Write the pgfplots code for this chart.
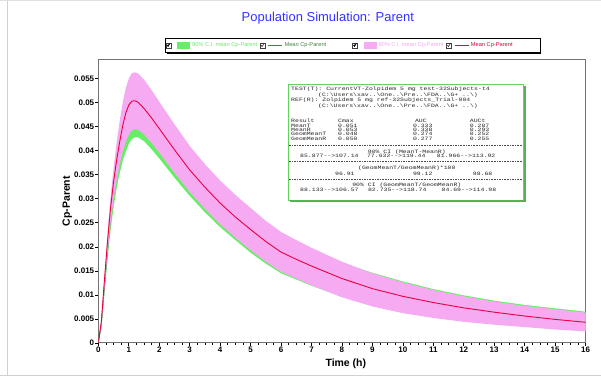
\documentclass[border=0pt]{standalone}
\usepackage{fontspec}
\setmainfont{Liberation Sans}
\newfontfamily\boxfont[FakeStretch=1.3]{Liberation Mono}
\usepackage{pgfplots}
\pgfplotsset{compat=1.18}
\usepackage{pgfplotstable}

\definecolor{greenband}{RGB}{102,238,102}
\definecolor{pinkband}{RGB}{245,170,242}
\definecolor{redline}{RGB}{232,0,64}
\definecolor{darkgreen}{RGB}{70,130,70}
\definecolor{boxgreen}{RGB}{100,210,100}
\definecolor{titleblue}{RGB}{51,51,255}

% mean curves: t, reference mean (red), test mean (dark green)
\pgfplotstableread{
t     m      gm
0     0      0
0.1   0.0045 0.0040
0.2   0.0130 0.0118
0.3   0.0210 0.0192
0.4   0.0280 0.0257
0.5   0.0335 0.0307
0.6   0.0380 0.0348
0.7   0.0418 0.0382
0.8   0.0452 0.0408
0.9   0.0478 0.0427
1.0   0.0495 0.0441
1.1   0.0503 0.0449
1.2   0.0504 0.0452
1.3   0.0501 0.0451
1.5   0.0488 0.0442
1.75  0.0468 0.0435
2.0   0.0446 0.0420
2.5   0.0402 0.0385
3.0   0.0360 0.0350
3.5   0.0324 0.0315
4.0   0.0291 0.0284
4.5   0.0262 0.0256
5.0   0.0236 0.0230
5.5   0.0211 0.0206
6.0   0.0189 0.0185
6.5   0.0174 0.0170
7.0   0.0160 0.0157
8.0   0.0134 0.0132
9.0   0.0113 0.0112
10.0  0.0097 0.0096
11.0  0.0084 0.0083
12.0  0.0073 0.0072
13.0  0.0064 0.0063
14.0  0.0056 0.0055
15.0  0.0049 0.0049
16.0  0.0043 0.0043
}\meandata

% test 90% C.I. band: upper edge forward, lower edge back
\pgfplotstableread{
t    y
0    0
0.1  0.0046
0.2  0.0132
0.3  0.0212
0.4  0.0280
0.5  0.0332
0.6  0.0375
0.7  0.0410
0.8  0.0436
0.9  0.0455
1.0  0.0468
1.1  0.0474
1.2  0.0476
1.3  0.0474
1.5  0.0465
1.75 0.0452
2.0  0.0440
2.5  0.0410
3.0  0.0385
3.5  0.0352
4.0  0.0322
4.5  0.0294
5.0  0.0268
5.5  0.0244
6.0  0.0222
6.5  0.0207
7.0  0.0193
8.0  0.0167
9.0  0.0146
10.0 0.0128
11.0 0.0112
12.0 0.0099
13.0 0.0088
14.0 0.0079
15.0 0.0072
16.0 0.0065
16.0 0.0025
15.0 0.0029
14.0 0.0034
13.0 0.0039
12.0 0.0045
11.0 0.0053
10.0 0.0063
9.0  0.0077
8.0  0.0096
7.0  0.0119
6.5  0.0132
6.0  0.0145
5.5  0.0165
5.0  0.0188
4.5  0.0214
4.0  0.0241
3.5  0.0272
3.0  0.0306
2.5  0.0344
2.0  0.0384
1.75 0.0403
1.5  0.0420
1.3  0.0428
1.2  0.0428
1.1  0.0424
1.0  0.0414
0.9  0.0398
0.8  0.0379
0.7  0.0353
0.6  0.0322
0.5  0.0282
0.4  0.0234
0.3  0.0172
0.2  0.0102
0.1  0.0030
0    0
}\greenband

% reference 90% C.I. band: upper edge forward, lower edge back
\pgfplotstableread{
t    y
0    0
0.1  0.0050
0.2  0.0140
0.3  0.0226
0.4  0.0302
0.5  0.0364
0.6  0.0416
0.7  0.0461
0.8  0.0500
0.9  0.0530
1.0  0.0550
1.1  0.0561
1.2  0.0563
1.3  0.0561
1.5  0.0548
1.75 0.0526
2.0  0.0502
2.5  0.0455
3.0  0.0410
3.5  0.0372
4.0  0.0338
4.5  0.0308
5.0  0.0281
5.5  0.0254
6.0  0.0231
6.5  0.0214
7.0  0.0198
8.0  0.0169
9.0  0.0145
10.0 0.0126
11.0 0.0110
12.0 0.0097
13.0 0.0086
14.0 0.0077
15.0 0.0070
16.0 0.0063
16.0 0.0024
15.0 0.0028
14.0 0.0033
13.0 0.0038
12.0 0.0044
11.0 0.0052
10.0 0.0062
9.0  0.0076
8.0  0.0095
7.0  0.0120
6.5  0.0134
6.0  0.0148
5.5  0.0169
5.0  0.0193
4.5  0.0219
4.0  0.0247
3.5  0.0279
3.0  0.0314
2.5  0.0354
2.0  0.0396
1.75 0.0416
1.5  0.0434
1.3  0.0444
1.2  0.0445
1.1  0.0442
1.0  0.0433
0.9  0.0418
0.8  0.0398
0.7  0.0371
0.6  0.0338
0.5  0.0298
0.4  0.0248
0.3  0.0185
0.2  0.0112
0.1  0.0036
0    0
}\pinkband

\newcommand{\chk}{%
  \draw[black!75,fill=white,line width=0.3pt] (0pt,-2.2pt) rectangle (4.6pt,2.4pt);
  \draw[black,line width=0.45pt] (0.9pt,0.3pt)--(1.9pt,-1.1pt)--(3.8pt,1.9pt);}
\newcommand{\bs}{\textbackslash}

\begin{document}
\begin{tikzpicture}
\path (0pt,0pt) rectangle (601pt,376pt);
\draw[black!18, line width=1pt] (7pt,0pt)--(7pt,376pt);
\draw[black!12, line width=1pt] (0pt,375.5pt)--(601pt,375.5pt);
\draw[black!18, line width=1pt] (0pt,0.5pt)--(601pt,0.5pt);

\begin{axis}[
  at={(98pt,33pt)}, anchor=south west,
  scale only axis, width=488pt, height=284pt,
  xmin=0, xmax=16, ymin=0, ymax=0.059,
  xtick={0,1,...,16},
  ytick={0,0.005,0.01,0.015,0.02,0.025,0.03,0.035,0.04,0.045,0.05,0.055},
  minor x tick num=3,
  tick pos=left, tick align=outside,
  major tick length=3pt, minor tick length=1.8pt,
  every tick/.append style={black, line width=0.6pt},
  axis line style={draw=black!55, line width=1.1pt},
  scaled y ticks=false,
  yticklabel style={/pgf/number format/fixed, /pgf/number format/precision=3},
  /pgf/number format/assume math mode=true,
  ticklabel style={font=\bfseries\fontsize{8}{9}\selectfont},
  yticklabel style={inner sep=1pt},
  xticklabel style={inner sep=1pt},
  xlabel={\bfseries Time (h)},
  ylabel={\bfseries Cp-Parent},
  label style={font=\bfseries\fontsize{10.5}{12}\selectfont},
  xlabel style={at={(axis description cs:0.508,-0.074)}, anchor=center},
  ylabel style={at={(axis description cs:-0.0635,0.5)}, anchor=center},
  title={Population Simulation: Parent},
  title style={at={(axis description cs:0.471,1.123)}, anchor=center, font=\fontsize{13}{14}\selectfont, text=titleblue},
  legend columns=4,
  legend style={at={(axis description cs:0.5215,1.049)}, anchor=center, draw=black, line width=0.4pt,
    font=\fontsize{5.7}{6}\selectfont, inner xsep=1pt, inner ysep=2.2pt, name=leg},
  legend cell align=left,
]
\addplot[fill=greenband, draw=none,
  legend image code/.code={\chk \fill[greenband] (11pt,-3.2pt) rectangle (24pt,3.2pt);}]
  table[x=t,y=y]{\greenband} -- cycle;
\addlegendentry{\makebox[66pt][l]{\textcolor{greenband}{90\% C.I. mean Cp-Parent}}}
\addplot[darkgreen, line width=0.8pt,
  legend image code/.code={\chk \draw[darkgreen,line width=0.8pt] (8pt,0pt)--(22pt,0pt);}]
  table[x=t,y=gm]{\meandata};
\addlegendentry{\makebox[66pt][l]{\textcolor{darkgreen}{Mean Cp-Parent}}}
\addplot[fill=pinkband, draw=none,
  legend image code/.code={\chk \fill[pinkband] (11pt,-3.2pt) rectangle (24pt,3.2pt);}]
  table[x=t,y=y]{\pinkband} -- cycle;
\addlegendentry{\makebox[66pt][l]{\textcolor{pinkband}{90\% C.I. mean Cp-Parent}}}
\addplot[redline, line width=0.9pt,
  legend image code/.code={\chk \draw[redline,line width=0.8pt] (8pt,0pt)--(22pt,0pt);}]
  table[x=t,y=m]{\meandata};
\addlegendentry{\makebox[66pt][l]{\textcolor{redline}{Mean Cp-Parent}}}
\end{axis}
\draw[black, line width=1.4pt] ([xshift=1.8pt,yshift=-0.8pt]leg.south west) -- ([xshift=0.8pt,yshift=-0.8pt]leg.south east) -- ([xshift=0.8pt,yshift=-1.8pt]leg.north east);

% info box
\fill[white] (288pt,176pt) rectangle (524pt,292pt);
\draw[boxgreen, line width=0.8pt] (288pt,176pt) rectangle (524pt,292pt);
\draw[boxgreen!85!black, line width=1.6pt] (289.5pt,175.2pt)--(525.2pt,175.2pt)--(525.2pt,290.5pt);
\begin{scope}[every node/.style={anchor=base west, inner sep=0pt, text=black!85,
    font=\boxfont\fontsize{5}{5}\selectfont}]
\node at (291pt,286pt) {TEST(T): CurrentVT-Zolpidem 5 mg test-32Subjects-t4};
\node at (318pt,280pt) {(C:\bs Users\bs xav..\bs One..\bs Pre..\bs FDA..\bs G+ ..\bs)};
\node at (291pt,274.4pt) {REF(R): Zolpidem 5 mg ref-32Subjects\_Trial-004};
\node at (318pt,268.4pt) {(C:\bs Users\bs xav..\bs One..\bs Pre..\bs FDA..\bs G+ ..\bs)};
\node at (291pt,253.4pt) {Result};
\node at (338pt,253.4pt) {Cmax};
\node at (415pt,253.4pt) {AUC};
\node at (470pt,253.4pt) {AUCt};
\node at (291pt,249.2pt) {MeanT};
\node at (338pt,249.2pt) {0.051};
\node at (413pt,249.2pt) {0.333};
\node at (470pt,249.2pt) {0.287};
\node at (291pt,244.8pt) {MeanR};
\node at (338pt,244.8pt) {0.053};
\node at (413pt,244.8pt) {0.338};
\node at (470pt,244.8pt) {0.293};
\node at (291pt,240.4pt) {GeomMeanT};
\node at (338pt,240.4pt) {0.048};
\node at (413pt,240.4pt) {0.274};
\node at (470pt,240.4pt) {0.252};
\node at (291pt,236pt) {GeomMeanR};
\node at (338pt,236pt) {0.050};
\node at (413pt,236pt) {0.277};
\node at (470pt,236pt) {0.255};
\node[anchor=base] at (407pt,223.2pt) {90\% CI (MeanT-MeanR)};
\node at (300pt,218.5pt) {85.877-->107.14};
\node at (367pt,218.5pt) {77.632-->119.44};
\node at (437pt,218.5pt) {81.966-->113.92};
\node[anchor=base] at (407pt,206.5pt) {(GeomMeanT/GeomMeanR)*100};
\node at (335pt,200.8pt) {96.91};
\node at (413pt,200.8pt) {99.12};
\node at (473pt,200.8pt) {98.68};
\node[anchor=base] at (407pt,189.2pt) {90\% CI (GeomMeanT/GeomMeanR)};
\node at (300pt,184.2pt) {88.133-->106.57};
\node at (368pt,184.2pt) {82.735-->118.74};
\node at (441.7pt,184.2pt) {84.69-->114.98};
\end{scope}
\begin{scope}[black!70, line width=0.4pt, dash pattern=on 1.6pt off 1pt]
\draw (289pt,231.3pt)--(523pt,231.3pt);
\draw (289pt,214.7pt)--(523pt,214.7pt);
\draw (289pt,196.7pt)--(523pt,196.7pt);
\end{scope}
\end{tikzpicture}
\end{document}
